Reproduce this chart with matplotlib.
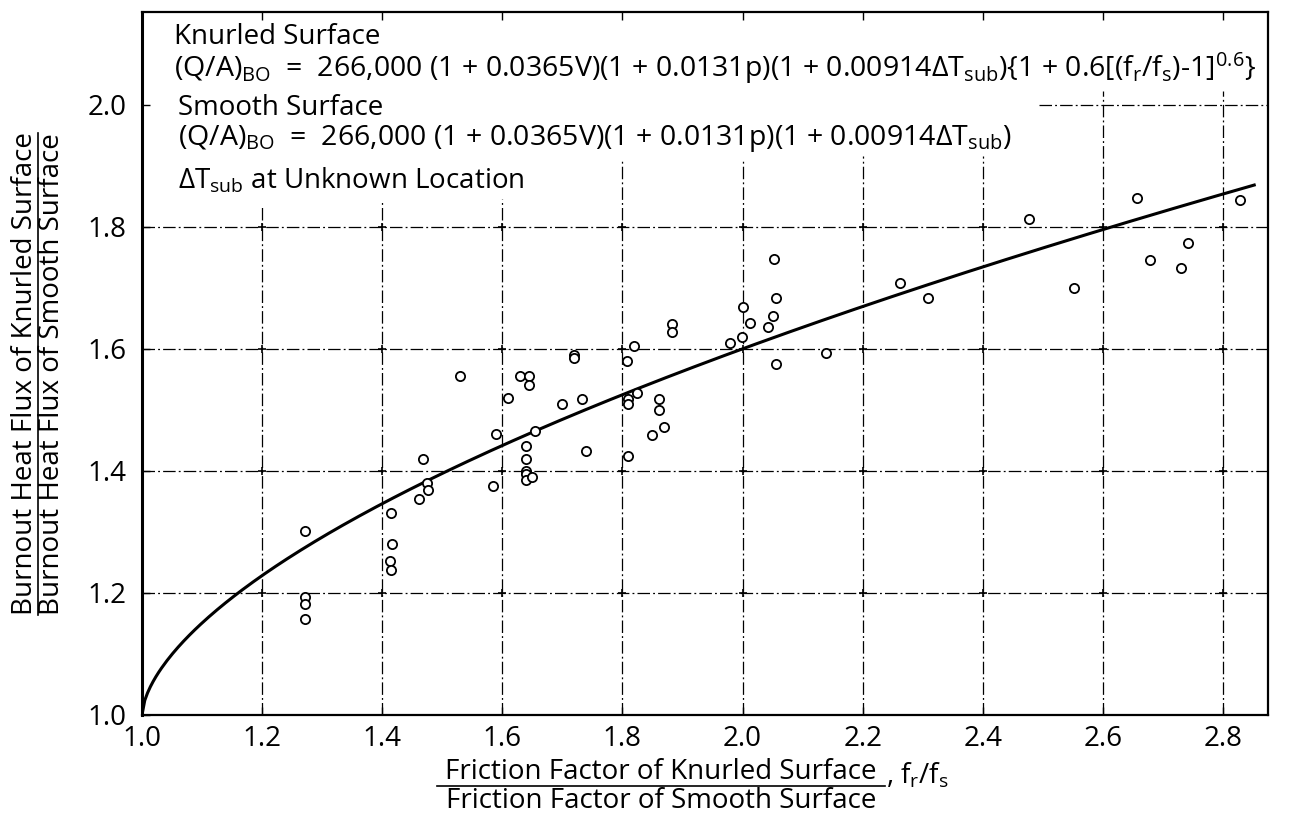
import numpy as np
import matplotlib
matplotlib.use("Agg")
import matplotlib.pyplot as plt
from matplotlib.lines import Line2D

# ---- fonts ----
FONT = "Open Sans"
plt.rcParams['font.family'] = [FONT, 'DejaVu Sans']
plt.rcParams['mathtext.fontset'] = 'custom'
plt.rcParams['mathtext.rm'] = FONT
plt.rcParams['mathtext.it'] = FONT
plt.rcParams['mathtext.bf'] = FONT

# ---- data ----
knurl_x = [1.272, 1.272, 1.272, 1.272,
           1.414, 1.416, 1.413, 1.415,
           1.468, 1.462, 1.474, 1.477,
           1.53, 1.59, 1.585, 1.61, 1.63, 1.645, 1.645,
           1.64, 1.64, 1.64, 1.64, 1.64, 1.65, 1.655,
           1.70, 1.72, 1.72, 1.732, 1.74,
           1.808, 1.819, 1.825, 1.81, 1.81, 1.861, 1.861, 1.869, 1.85, 1.81,
           1.883, 1.883,
           1.979, 1.999, 2.0, 2.013, 2.043, 2.05, 2.056, 2.053, 2.056, 2.139,
           2.263, 2.309, 2.477, 2.552, 2.656, 2.678, 2.730, 2.742, 2.829]
knurl_y = [1.302, 1.193, 1.182, 1.157,
           1.331, 1.280, 1.252, 1.237,
           1.420, 1.354, 1.380, 1.369,
           1.555, 1.46, 1.375, 1.52, 1.555, 1.555, 1.54,
           1.44, 1.42, 1.40, 1.395, 1.385, 1.39, 1.465,
           1.51, 1.59, 1.585, 1.517, 1.433,
           1.580, 1.605, 1.527, 1.517, 1.51, 1.518, 1.499, 1.472, 1.459, 1.425,
           1.640, 1.628,
           1.609, 1.619, 1.669, 1.642, 1.635, 1.653, 1.683, 1.748, 1.575, 1.594,
           1.708, 1.683, 1.813, 1.699, 1.847, 1.745, 1.733, 1.774, 1.844]

# correlation shown on the chart: 1 + 0.6[(fr/fs)-1]^0.6
corr_a = 0.6
corr_n = 0.6
curve_x = np.linspace(1.0, 2.852, 400)
curve_y = 1 + corr_a * (curve_x - 1) ** corr_n

x_ticks = [1.0, 1.2, 1.4, 1.6, 1.8, 2.0, 2.2, 2.4, 2.6, 2.8]
y_ticks = [1.0, 1.2, 1.4, 1.6, 1.8, 2.0]
# where each vertical grid line stops under the equation block (y value)
grid_top = [None, 1.836, 1.843, 1.846, 1.911, 1.911, 1.916, 1.916, 2.023, 2.023]

XMAX, YMAX = 2.875, 2.152
fig = plt.figure(figsize=(12.93, 8.16), dpi=100)
ax = fig.add_axes([0.1098, 0.1238, 0.9807 - 0.1098, 0.9853 - 0.1238])
ax.set_xlim(1.0, XMAX)
ax.set_ylim(1.0, YMAX)

grid_ls = (0, (10, 2.5, 1.5, 2.5))
for xv, top in zip(x_ticks[1:], grid_top[1:]):
    ax.axvline(xv, ymax=(top - 1.0) / (YMAX - 1.0), color='black', lw=0.9,
               ls=grid_ls, zorder=1)
for yv in y_ticks[1:-1]:
    ax.axhline(yv, color='black', lw=0.9, ls=grid_ls, zorder=1)
ax.axhline(2.0, xmin=(2.493 - 1.0) / (XMAX - 1.0), color='black', lw=0.9,
           ls=grid_ls, zorder=1)
gx, gy = np.meshgrid(x_ticks[1:], y_ticks[1:-1])
ax.plot(gx.ravel(), gy.ravel(), '+', color='black', ms=6, mew=1.2, zorder=1)

ax.plot(curve_x, curve_y, color='black', lw=2.2, zorder=3)
ax.scatter(knurl_x, knurl_y, s=44, facecolors='white', edgecolors='black',
           linewidths=1.3, zorder=4)

ax.set_xticks(x_ticks)
ax.set_yticks(y_ticks)
ax.set_xticklabels([f"{v:.1f}" for v in x_ticks])
ax.set_yticklabels([f"{v:.1f}" for v in y_ticks])
ax.tick_params(axis='both', direction='in', length=6, width=1.0, labelsize=20,
               top=True, right=False)
ax.tick_params(axis='x', pad=7)
ax.tick_params(axis='y', pad=11)
for side, sp in ax.spines.items():
    sp.set_linewidth(1.6)
ax.spines['left'].set_linewidth(2.2)

# equation block
fs = 20
fs_eq = 20.5
tx = 0.028
ax.text(tx, 0.965, "Knurled Surface", transform=ax.transAxes, fontsize=fs, va='center')
ax.text(tx, 0.92,
        r"(Q/A)$_{\mathrm{BO}}$  =  266,000 (1 + 0.0365V)(1 + 0.0131p)(1 + 0.00914ΔT$_{\mathrm{sub}}$)"
        r"{1 + 0.6[(f$_{\mathrm{r}}$/f$_{\mathrm{s}}$)-1]$^{0.6}$}",
        transform=ax.transAxes, fontsize=fs_eq, va='center')
ax.text(tx + 0.004, 0.864, "Smooth Surface", transform=ax.transAxes, fontsize=fs, va='center')
ax.text(tx + 0.004, 0.82,
        r"(Q/A)$_{\mathrm{BO}}$  =  266,000 (1 + 0.0365V)(1 + 0.0131p)(1 + 0.00914ΔT$_{\mathrm{sub}}$)",
        transform=ax.transAxes, fontsize=fs_eq, va='center')
ax.text(tx + 0.004, 0.76, r"ΔT$_{\mathrm{sub}}$ at Unknown Location",
        transform=ax.transAxes, fontsize=fs, va='center')

# y label as a fraction
ycen = (816 - 374) / 816
fig.text(25 / 1293, ycen, "Burnout Heat Flux of Knurled Surface", rotation=90,
         fontsize=fs, ha='center', va='center')
fig.text(52 / 1293, ycen, "Burnout Heat Flux of Smooth Surface", rotation=90,
         fontsize=fs, ha='center', va='center')
fig.add_artist(Line2D([38 / 1293, 38 / 1293], [(816 - 615) / 816, (816 - 133) / 816],
                      color='black', lw=1.2, transform=fig.transFigure))

# x label as a fraction
xcen = 661 / 1293
fig.text(xcen, (816 - 772) / 816, "Friction Factor of Knurled Surface",
         fontsize=fs, ha='center', va='center')
fig.text(xcen, (816 - 801) / 816, "Friction Factor of Smooth Surface",
         fontsize=fs, ha='center', va='center')
fig.add_artist(Line2D([437 / 1293, 885 / 1293], [(816 - 786) / 816] * 2,
                      color='black', lw=1.2, transform=fig.transFigure))
fig.text(886 / 1293, (816 - 776) / 816, r", f$_{\mathrm{r}}$/f$_{\mathrm{s}}$",
         fontsize=fs, ha='left', va='center')

fig.savefig("out.png", dpi=100)
